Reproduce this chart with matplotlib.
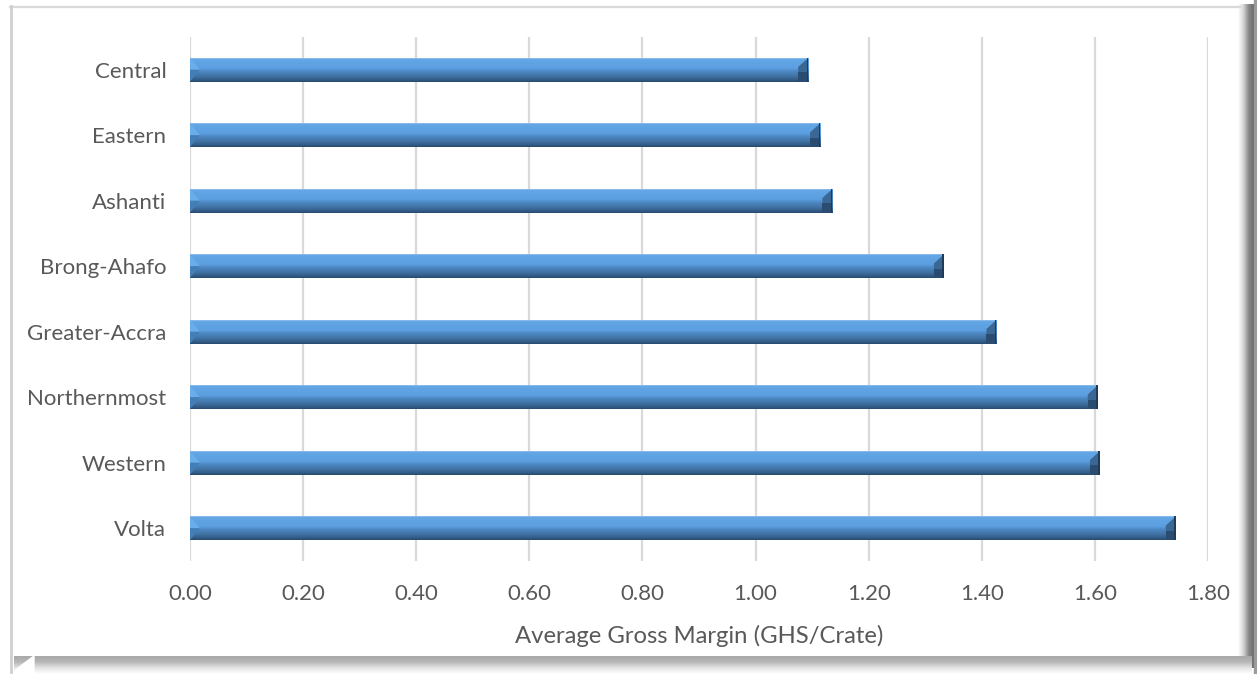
import numpy as np
import matplotlib
matplotlib.use("Agg")
import matplotlib.pyplot as plt
from matplotlib.colors import LinearSegmentedColormap
from matplotlib.patches import Polygon, Rectangle

# Average gross margin by region (GHS per crate)
regions = ["Central", "Eastern", "Ashanti", "Brong-Ahafo", "Greater-Accra",
           "Northernmost", "Western", "Volta"]
margins = [1.093, 1.114, 1.136, 1.333, 1.426, 1.605, 1.609, 1.743]
x_ticks = [0.0, 0.2, 0.4, 0.6, 0.8, 1.0, 1.2, 1.4, 1.6, 1.8]
x_label = "Average Gross Margin (GHS/Crate)"

W, H, DPI = 1257, 674, 100
TEXT = "#595959"
FONT = "Lato"

fig = plt.figure(figsize=(W / DPI, H / DPI), dpi=DPI)
fig.patch.set_facecolor("white")

# ---- chart frame with soft drop shadow (pixel coordinates) ----
bg = fig.add_axes([0, 0, 1, 1], zorder=0)
bg.set_xlim(0, W)
bg.set_ylim(H, 0)
bg.axis("off")

shade = LinearSegmentedColormap.from_list("shade", ["#ffffff", "#d6d6d6", "#8a8a8a", "#6a6a6a"])
grad_h = np.linspace(0, 1, 64)[None, :]
bg.imshow(grad_h, cmap=shade, extent=(1238, 1254, 668, 4), aspect="auto",
          interpolation="bilinear", zorder=1)
bg.add_patch(Rectangle((1254, 0), 3, H, color="#9a9a9a", zorder=1))
grad_v = np.linspace(0, 1, 64)[:, None]
shade_b = LinearSegmentedColormap.from_list("shadeb", ["#ffffff", "#e4e4e4", "#b8b8b8", "#a8a8a8"])
bg.imshow(grad_v, cmap=shade_b, extent=(14, 1252, 656, 674), aspect="auto",
          interpolation="bilinear", zorder=1)
bg.add_patch(Polygon([(10, 674), (34, 656), (34, 674)], closed=True, color="white", zorder=2))
bg.plot([10, 1240], [6.5, 6.5], color="#d9d9d9", lw=1.6, zorder=3)
bg.plot([10.5, 10.5], [6, 672], color="#cfcfcf", lw=2.0, zorder=3)

# ---- plotting area ----
left, right, top, bottom = 190, 1208, 37, 561
ax = fig.add_axes([left / W, 1 - bottom / H, (right - left) / W, (bottom - top) / H], zorder=2)
ax.set_facecolor("none")

y = np.arange(len(regions))
bar_h = 0.36
bars = ax.barh(y, margins, height=bar_h, color="#5b9bd5", linewidth=0, zorder=3)

ax.set_xlim(x_ticks[0], x_ticks[-1])
ax.set_ylim(len(regions) - 0.5, -0.5)

# vertical gradient giving the bevelled look (top -> bottom)
bevel_cmap = LinearSegmentedColormap.from_list(
    "bevel",
    [(0.0, "#9cc6ee"), (0.05, "#62a6e6"), (0.42, "#5d9fe0"),
     (0.55, "#4d89c5"), (0.78, "#3f70a0"), (0.93, "#305882"), (1.0, "#27486b")])
grad = np.linspace(0, 1, 128)[:, None]

px_x = (x_ticks[-1] - x_ticks[0]) / (right - left)      # data units per pixel (x)
px_y = len(regions) / (bottom - top)                     # data units per pixel (y)
bw = 10 * px_x
bd = 9 * px_y

for rect in bars:
    x0, yb = rect.get_x(), rect.get_y()
    wdt, hgt = rect.get_width(), rect.get_height()
    y_top, y_bot = yb, yb + hgt           # y axis is inverted: y_top is visually top
    im = ax.imshow(grad, cmap=bevel_cmap, extent=(x0, x0 + wdt, y_bot, y_top),
                   aspect="auto", interpolation="bilinear", zorder=4)
    im.set_clip_path(rect)
    ym = y_top + hgt / 2
    x1 = x0 + wdt
    # right end face: bevelled corner, dark side
    ax.add_patch(Polygon([(x1, y_top), (x1 - bw, y_top + bd), (x1 - bw, ym + bd * 0.3), (x1, ym + bd * 0.3)],
                         closed=True, color="#3a6794", lw=0, zorder=5))
    ax.add_patch(Polygon([(x1, ym + bd * 0.3), (x1 - bw, ym + bd * 0.3), (x1 - bw, y_bot), (x1, y_bot)],
                         closed=True, color="#2a4c70", lw=0, zorder=5))
    ax.add_patch(Rectangle((x1 - 1.5 * px_x, y_top), 1.5 * px_x, hgt, color="#203b58", lw=0, zorder=6))
    # left end face: lighter wedge
    ax.add_patch(Polygon([(x0, y_top), (x0 + bw, ym), (x0, ym)],
                         closed=True, color="#6aadeb", lw=0, zorder=5))
    ax.add_patch(Polygon([(x0, ym), (x0 + bw, ym), (x0, y_bot)],
                         closed=True, color="#447eb7", lw=0, zorder=5))

# grid and axes styling
ax.set_xticks(x_ticks)
ax.set_xticklabels([f"{v:.2f}" for v in x_ticks])
ax.set_yticks(y)
ax.set_yticklabels(regions)
ax.grid(axis="x", color="#d9d9d9", lw=1.6, zorder=1)
ax.set_axisbelow(True)
for s in ax.spines.values():
    s.set_visible(False)
ax.tick_params(axis="both", length=0, colors=TEXT, labelsize=16)
ax.tick_params(axis="y", pad=17)
ax.tick_params(axis="x", pad=16.5)
for lab in ax.get_xticklabels() + ax.get_yticklabels():
    lab.set_fontfamily(FONT)
ax.set_xlabel(x_label, fontsize=17.2, color=TEXT, fontfamily=FONT, labelpad=15)

fig.savefig("out.png", dpi=DPI, facecolor="white")
